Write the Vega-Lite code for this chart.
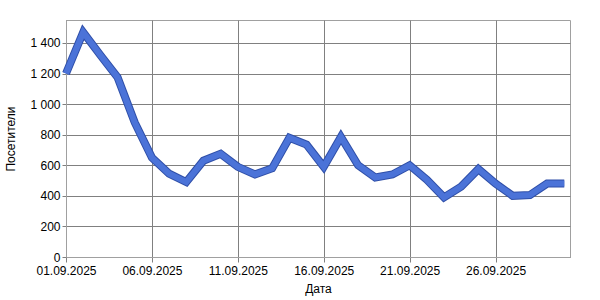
{
  "$schema": "https://vega.github.io/schema/vega-lite/v6.json",
  "width": 504,
  "height": 237,
  "autosize": "none",
  "padding": {"left": 66, "top": 20, "right": 30, "bottom": 43},
  "background": "white",
  "config": {
    "font": "Liberation Sans",
    "view": {"stroke": "#a0a0a0", "strokeWidth": 1},
    "axis": {
      "labelFont": "Liberation Sans", "titleFont": "Liberation Sans",
      "labelFontSize": 12, "titleFontSize": 12, "labelColor": "black", "titleColor": "black",
      "titleFontWeight": "normal", "gridColor": "#808080", "gridOpacity": 1,
      "domainColor": "#a0a0a0", "tickColor": "#808080", "labelOverlap": false, "labelFlush": false
    }
  },
  "data": {"values": [
    {"date": "2025-09-01", "visitors": 1200},
    {"date": "2025-09-02", "visitors": 1470},
    {"date": "2025-09-03", "visitors": 1320},
    {"date": "2025-09-04", "visitors": 1175},
    {"date": "2025-09-05", "visitors": 880},
    {"date": "2025-09-06", "visitors": 650},
    {"date": "2025-09-07", "visitors": 545},
    {"date": "2025-09-08", "visitors": 490},
    {"date": "2025-09-09", "visitors": 630},
    {"date": "2025-09-10", "visitors": 675},
    {"date": "2025-09-11", "visitors": 590},
    {"date": "2025-09-12", "visitors": 540},
    {"date": "2025-09-13", "visitors": 580},
    {"date": "2025-09-14", "visitors": 780},
    {"date": "2025-09-15", "visitors": 735},
    {"date": "2025-09-16", "visitors": 590},
    {"date": "2025-09-17", "visitors": 785},
    {"date": "2025-09-18", "visitors": 600},
    {"date": "2025-09-19", "visitors": 520},
    {"date": "2025-09-20", "visitors": 540},
    {"date": "2025-09-21", "visitors": 600},
    {"date": "2025-09-22", "visitors": 505},
    {"date": "2025-09-23", "visitors": 390},
    {"date": "2025-09-24", "visitors": 460},
    {"date": "2025-09-25", "visitors": 575},
    {"date": "2025-09-26", "visitors": 480},
    {"date": "2025-09-27", "visitors": 400},
    {"date": "2025-09-28", "visitors": 405},
    {"date": "2025-09-29", "visitors": 480},
    {"date": "2025-09-30", "visitors": 480}
  ]},
  "encoding": {
    "x": {"field": "date", "type": "temporal",
      "scale": {"type": "utc", "domain": ["2025-09-01T00:00:00Z", "2025-09-30T08:00:00Z"]},
      "axis": {"title": "Дата", "values": ["2025-09-01T00:00:00Z", "2025-09-06T00:00:00Z", "2025-09-11T00:00:00Z", "2025-09-16T00:00:00Z", "2025-09-21T00:00:00Z", "2025-09-26T00:00:00Z"],
        "labelExpr": "utcFormat(datum.value, '%d.%m.%Y')", "grid": true, "tickSize": 5, "labelPadding": 3, "titlePadding": 7}},
    "y": {"field": "visitors", "type": "quantitative",
      "scale": {"domain": [0, 1550], "nice": false},
      "axis": {"title": "Посетители", "values": [0, 200, 400, 600, 800, 1000, 1200, 1400],
        "labelExpr": "replace(format(datum.value, ','), ',', ' ')", "grid": true, "tickSize": 4, "labelPadding": 2, "titlePadding": 12}}
  },
  "layer": [
    {"mark": {"type": "line", "color": "#2f4fa8", "strokeWidth": 8, "strokeJoin": "miter", "strokeCap": "butt"}},
    {"mark": {"type": "line", "color": "#4b73d8", "strokeWidth": 6, "strokeJoin": "miter", "strokeCap": "butt"}}
  ]
}
